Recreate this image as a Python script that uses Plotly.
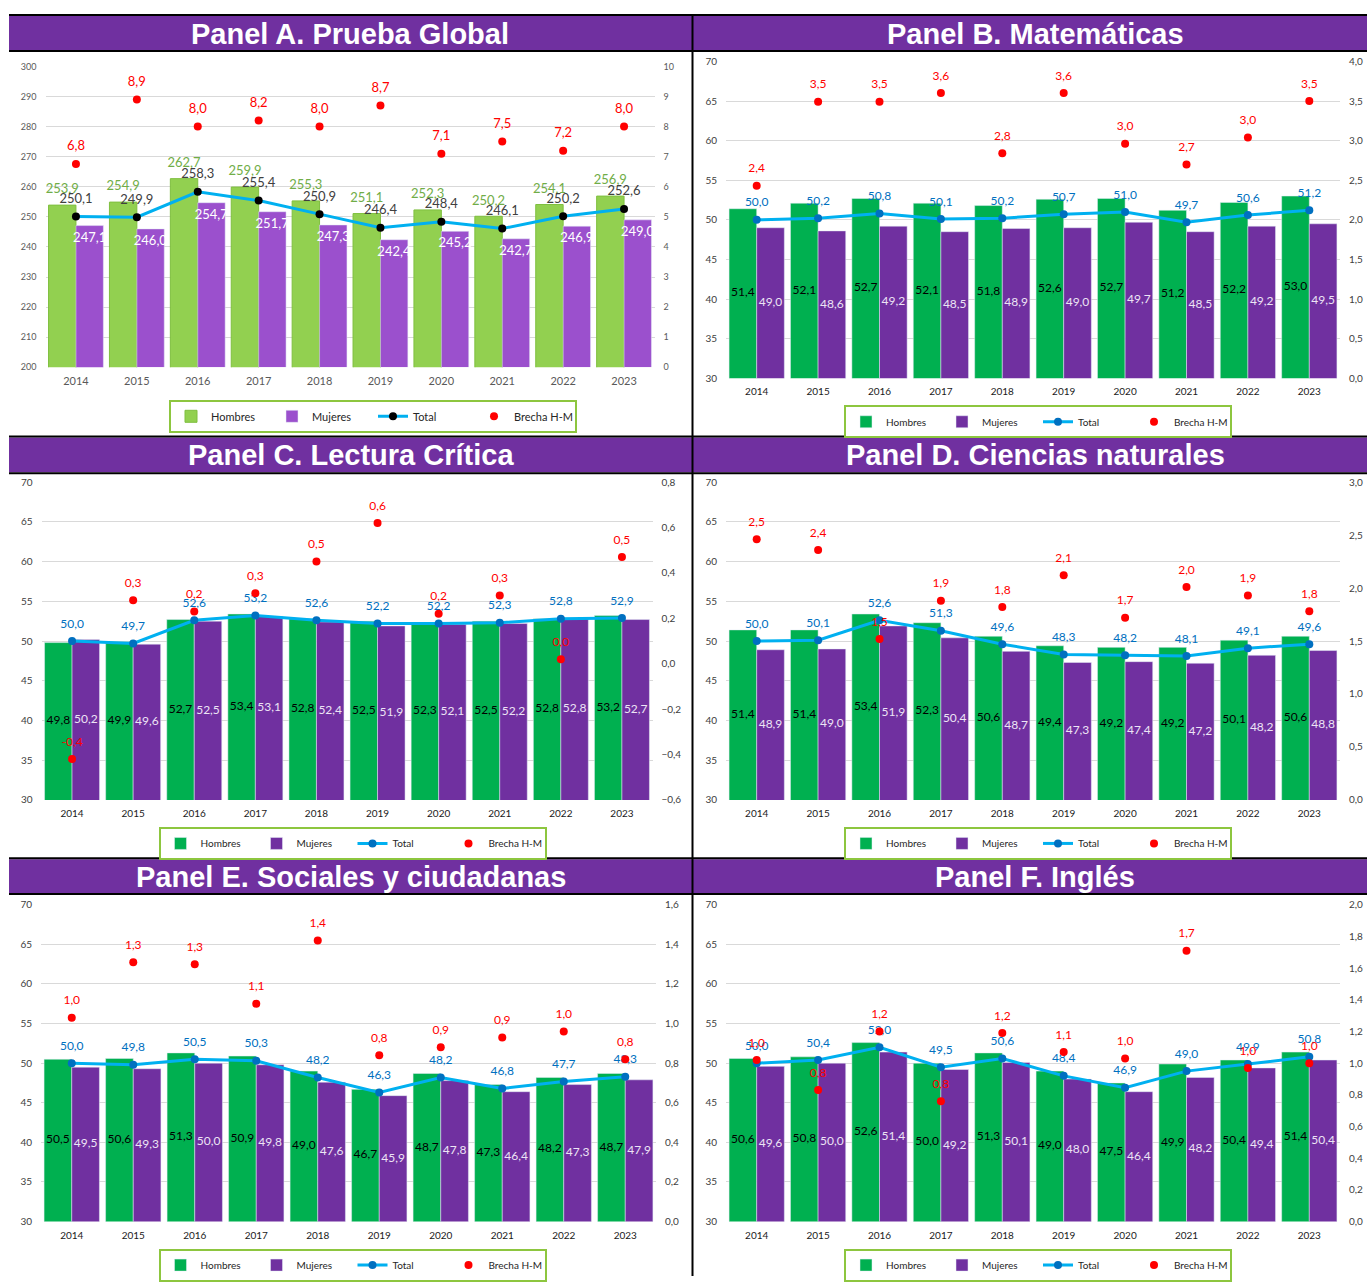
import plotly.graph_objects as go

W, H = 1367, 1282

years = ['2014', '2015', '2016', '2017', '2018', '2019', '2020', '2021', '2022', '2023']

# Panel A - Prueba Global
global_hombres = [253.9, 254.9, 262.7, 259.9, 255.3, 251.1, 252.3, 250.2, 254.1, 256.9]
global_mujeres = [247.1, 246.0, 254.7, 251.7, 247.3, 242.4, 245.2, 242.7, 246.9, 249.0]
global_total = [250.1, 249.9, 258.3, 255.4, 250.9, 246.4, 248.4, 246.1, 250.2, 252.6]
global_brecha = [6.76, 8.9, 8.0, 8.2, 8.0, 8.7, 7.1, 7.5, 7.2, 8.0]

# Panel B - Matematicas
mat_hombres = [51.4, 52.1, 52.7, 52.1, 51.8, 52.6, 52.7, 51.2, 52.2, 53.0]
mat_mujeres = [49.0, 48.6, 49.2, 48.5, 48.9, 49.0, 49.7, 48.5, 49.2, 49.5]
mat_total = [50.0, 50.2, 50.8, 50.1, 50.2, 50.7, 51.0, 49.7, 50.6, 51.2]
mat_brecha = [2.43, 3.49, 3.49, 3.6, 2.84, 3.6, 2.96, 2.7, 3.04, 3.5]

# Panel C - Lectura critica
lec_hombres = [49.8, 49.9, 52.7, 53.4, 52.8, 52.5, 52.3, 52.5, 52.8, 53.2]
lec_mujeres = [50.2, 49.6, 52.5, 53.1, 52.4, 51.9, 52.1, 52.2, 52.8, 52.7]
lec_total = [50.0, 49.7, 52.6, 53.2, 52.6, 52.2, 52.2, 52.3, 52.8, 52.9]
lec_brecha = [-0.42, 0.28, 0.23, 0.31, 0.45, 0.62, 0.22, 0.3, 0.02, 0.47]

# Panel D - Ciencias naturales
cn_hombres = [51.4, 51.4, 53.4, 52.3, 50.6, 49.4, 49.2, 49.2, 50.1, 50.6]
cn_mujeres = [48.9, 49.0, 51.9, 50.4, 48.7, 47.3, 47.4, 47.2, 48.2, 48.8]
cn_total = [50.0, 50.1, 52.6, 51.3, 49.6, 48.3, 48.2, 48.1, 49.1, 49.6]
cn_brecha = [2.46, 2.36, 1.52, 1.88, 1.82, 2.12, 1.72, 2.01, 1.93, 1.78]

# Panel E - Sociales y ciudadanas
soc_hombres = [50.5, 50.6, 51.3, 50.9, 49.0, 46.7, 48.7, 47.3, 48.2, 48.7]
soc_mujeres = [49.5, 49.3, 50.0, 49.8, 47.6, 45.9, 47.8, 46.4, 47.3, 47.9]
soc_total = [50.0, 49.8, 50.5, 50.3, 48.2, 46.3, 48.2, 46.8, 47.7, 48.3]
soc_brecha = [1.03, 1.31, 1.3, 1.1, 1.42, 0.84, 0.88, 0.93, 0.96, 0.82]

# Panel F - Ingles
ing_hombres = [50.6, 50.8, 52.6, 50.0, 51.3, 49.0, 47.5, 49.9, 50.4, 51.4]
ing_mujeres = [49.6, 50.0, 51.4, 49.2, 50.1, 48.0, 46.4, 48.2, 49.4, 50.4]
ing_total = [50.0, 50.4, 52.0, 49.5, 50.6, 48.4, 46.9, 49.0, 49.9, 50.8]
ing_brecha = [1.02, 0.83, 1.2, 0.76, 1.19, 1.07, 1.03, 1.71, 0.97, 1.0]

titles = ['Panel A. Prueba Global', 'Panel B. Matemáticas', 'Panel C. Lectura Crítica',
          'Panel D. Ciencias naturales', 'Panel E. Sociales y ciudadanas', 'Panel F. Inglés']

PURPLE = '#7030A0'
FONT = 'Lato, Open Sans, sans-serif'
BARGAP = 0.1
idx = list(range(len(years)))
half = (1 - BARGAP) / 4  # offset of each bar centre inside a group


def fmt(v):
    return f'{v:.1f}'.replace('.', ',')


def px_x(p):
    return p / W


def px_y(p):
    return 1 - p / H


panels = [
    dict(h=global_hombres, m=global_mujeres, t=global_total, b=global_brecha,
         box=(45.5, 654.5, 60, 364), left=(200, 300, 10), right=(0, 10, 1), rfmt='d',
         legend=(373, 413.5, 11), first=True),
    dict(h=mat_hombres, m=mat_mujeres, t=mat_total, b=mat_brecha,
         box=(726, 1340, 55, 375), left=(30, 70, 5), right=(0, 4, 0.5), rfmt='.1f',
         legend=(1038, 419, 10), first=False),
    dict(h=lec_hombres, m=lec_mujeres, t=lec_total, b=lec_brecha,
         box=(41.5, 652.5, 480, 801), left=(30, 70, 5), right=(-0.6, 0.8, 0.2), rfmt='.1f',
         legend=(352.5, 845, 10), first=False),
    dict(h=cn_hombres, m=cn_mujeres, t=cn_total, b=cn_brecha,
         box=(726, 1340, 480, 801), left=(30, 70, 5), right=(0, 3, 0.5), rfmt='.1f',
         legend=(1038, 845, 10), first=False),
    dict(h=soc_hombres, m=soc_mujeres, t=soc_total, b=soc_brecha,
         box=(41, 656, 907, 1227), left=(30, 70, 5), right=(0, 1.6, 0.2), rfmt='.1f',
         legend=(352.5, 1271, 10), first=False),
    dict(h=ing_hombres, m=ing_mujeres, t=ing_total, b=ing_brecha,
         box=(726, 1340, 907, 1227), left=(30, 70, 5), right=(0, 2, 0.2), rfmt='.1f',
         legend=(1038, 1271, 10), first=False),
]

fig = go.Figure()
layout = {}
ghost = dict(size=15, color='rgba(0,0,0,0)')

for i, p in enumerate(panels, start=1):
    xs = '' if i == 1 else str(i)
    yl = '' if i == 1 else str(2 * i - 1)
    yr = str(2 * i)
    lg = 'legend' if i == 1 else f'legend{i}'
    first = p['first']
    lo, hi, dt = p['left']

    if first:
        col_h, col_m = '#92D050', '#9B50CD'
        tick_col, year_col, tick_size = '#595959', '#595959', 9
        total_marker, total_txt = 'black', '#404040'
    else:
        col_h, col_m = '#00B050', PURPLE
        tick_col, year_col, tick_size = '#404040', '#1a1a1a', 10
        total_marker, total_txt = '#0070C0', '#0070C0'

    # bars
    if first:
        fig.add_trace(go.Bar(x=idx, y=p['h'], name='Hombres', marker_color=col_h,
                             marker_line=dict(color='#7FBF3F', width=1),
                             xaxis='x' + xs, yaxis='y' + yl, legend=lg))
        fig.add_trace(go.Bar(x=idx, y=p['m'], name='Mujeres', marker_color=col_m,
                             text=[fmt(v) for v in p['m']], textposition='inside',
                             insidetextanchor='end', textangle=0, constraintext='none',
                             textfont=dict(color='white', size=13, family=FONT),
                             xaxis='x' + xs, yaxis='y' + yl, legend=lg))
        # hombres labels just above each green bar
        fig.add_trace(go.Scatter(x=[k - half for k in idx], y=p['h'], mode='markers+text',
                                 marker=dict(size=12, color='rgba(0,0,0,0)'), showlegend=False,
                                 text=[fmt(v) for v in p['h']], textposition='top center',
                                 textfont=dict(color='#70AD47', size=13, family=FONT),
                                 cliponaxis=False, xaxis='x' + xs, yaxis='y' + yl))
    else:
        fig.add_trace(go.Bar(x=idx, y=p['h'], name='Hombres', marker_color=col_h,
                             xaxis='x' + xs, yaxis='y' + yl, legend=lg))
        fig.add_trace(go.Bar(x=idx, y=p['m'], name='Mujeres', marker_color=col_m,
                             xaxis='x' + xs, yaxis='y' + yl, legend=lg))
        # value labels in the middle of each bar
        fig.add_trace(go.Scatter(x=[k - half for k in idx], y=[(lo + v) / 2 for v in p['h']],
                                 mode='text', text=[fmt(v) for v in p['h']], showlegend=False,
                                 textfont=dict(color='black', size=12, family=FONT),
                                 xaxis='x' + xs, yaxis='y' + yl))
        fig.add_trace(go.Scatter(x=[k + half for k in idx], y=[(lo + v) / 2 for v in p['m']],
                                 mode='text', text=[fmt(v) for v in p['m']], showlegend=False,
                                 textfont=dict(color='#EDE4F5', size=12, family=FONT),
                                 xaxis='x' + xs, yaxis='y' + yl))

    # total line
    fig.add_trace(go.Scatter(x=idx, y=p['t'], name='Total', mode='lines+markers',
                             line=dict(color='#00B0F0', width=3),
                             marker=dict(color=total_marker, size=8),
                             xaxis='x' + xs, yaxis='y' + yl, legend=lg))
    fig.add_trace(go.Scatter(x=idx, y=p['t'], mode='markers+text', showlegend=False,
                             marker=ghost, text=[fmt(v) for v in p['t']], textposition='top center',
                             textfont=dict(color=total_txt, size=13 if first else 12, family=FONT),
                             cliponaxis=False, xaxis='x' + xs, yaxis='y' + yl))

    # brecha points on right axis
    fig.add_trace(go.Scatter(x=idx, y=p['b'], name='Brecha H-M', mode='markers',
                             marker=dict(color='#FF0000', size=8),
                             xaxis='x' + xs, yaxis='y' + yr, legend=lg))
    fig.add_trace(go.Scatter(x=idx, y=p['b'], mode='markers+text', showlegend=False,
                             marker=ghost, text=[fmt(v) for v in p['b']], textposition='top center',
                             textfont=dict(color='#FF0000', size=13 if first else 12, family=FONT),
                             cliponaxis=False, xaxis='x' + xs, yaxis='y' + yr))

    x0, x1, yt, yb = p['box']
    rlo, rhi, rdt = p['right']
    layout['xaxis' + xs] = dict(domain=[px_x(x0), px_x(x1)], anchor='y' + yl, type='linear',
                                range=[-0.5, len(years) - 0.5], tickvals=idx, ticktext=years,
                                showgrid=False, showline=False, ticks='', zeroline=False,
                                tickfont=dict(size=11 if first else 10, color=year_col, family=FONT),
                                ticklabelstandoff=6)
    layout['yaxis' + yl] = dict(domain=[px_y(yb), px_y(yt)], anchor='x' + xs, range=[lo, hi], dtick=dt,
                                tick0=lo, showgrid=True, gridcolor='#D9D9D9', gridwidth=1,
                                zeroline=False, showline=False, ticks='',
                                tickfont=dict(size=tick_size, color=tick_col, family=FONT),
                                ticklabelstandoff=8)
    layout['yaxis' + yr] = dict(overlaying='y' + yl, side='right', anchor='x' + xs,
                                range=[rlo, rhi], dtick=rdt, tick0=rlo, tickformat=p['rfmt'],
                                showgrid=False, zeroline=False, showline=False, ticks='',
                                tickfont=dict(size=tick_size, color=tick_col, family=FONT),
                                ticklabelstandoff=8)
    cx, cy, fs = p['legend']
    layout[lg] = dict(x=px_x(cx), y=px_y(cy), xanchor='center', yanchor='middle',
                      orientation='h', bgcolor='white', bordercolor='#8DC63F', borderwidth=2,
                      font=dict(size=fs, color='#262626', family=FONT),
                      entrywidth=56 if first else 51, entrywidthmode='pixels',
                      traceorder='normal', itemwidth=30)

# title bands and frame lines
shapes = []
annotations = []
bands = [(9, 43.5, 8, 44.5), (435, 470, 433.8, 471), (861, 895, 860, 896)]
title_pos = [(350, 27), (1035, 27), (351, 453), (1035, 453), (351, 879), (1035, 879)]
for b0, b1, ltop, lbot in bands:
    shapes.append(dict(type='rect', xref='paper', yref='paper', x0=px_x(9), x1=1,
                       y0=px_y(b1), y1=px_y(b0), fillcolor=PURPLE, line_width=0, layer='below'))
    for ly in (ltop, lbot):
        shapes.append(dict(type='line', xref='paper', yref='paper', x0=px_x(9), x1=1,
                           y0=px_y(ly), y1=px_y(ly), line=dict(color='black', width=2)))
shapes.append(dict(type='line', xref='paper', yref='paper', x0=px_x(692.5), x1=px_x(692.5),
                   y0=0, y1=px_y(8), line=dict(color='black', width=2)))

for t, (tx, ty) in zip(titles, title_pos):
    annotations.append(dict(text=t, xref='paper', yref='paper', x=px_x(tx), y=px_y(ty),
                            xanchor='center', yanchor='middle', showarrow=False,
                            font=dict(family='Liberation Sans, Arial, sans-serif', size=29,
                                      color='white', weight='bold')))

fig.update_layout(width=W, height=H, autosize=False, margin=dict(l=0, r=0, t=0, b=0),
                  paper_bgcolor='white', plot_bgcolor='white', separators=',.',
                  barmode='group', bargap=BARGAP, bargroupgap=0,
                  shapes=shapes, annotations=annotations, **layout)

fig.write_html('out.html', config={'displayModeBar': False},
               post_script="document.body.style.margin='0';"
                           "document.body.style.overflow='hidden';")
